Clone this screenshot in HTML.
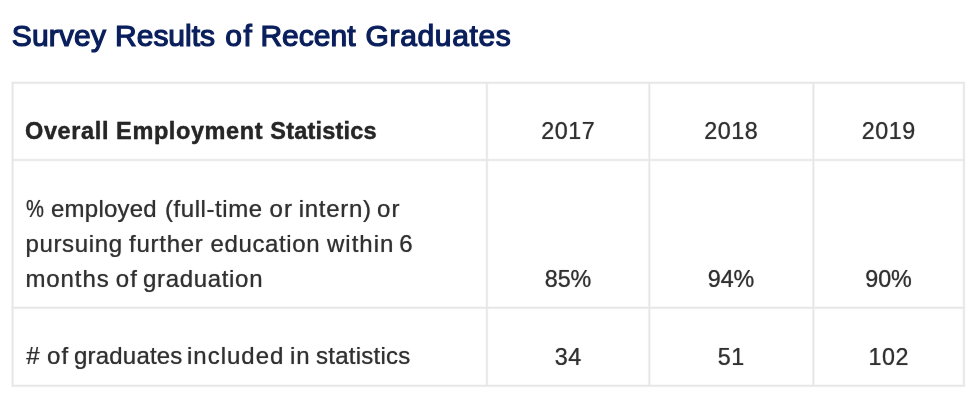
<!DOCTYPE html>
<html lang="en">
<head>
<meta charset="utf-8">
<title>Survey Results of Recent Graduates</title>
<style>
html,body{margin:0;padding:0;background:#fff;}
body{width:975px;height:407px;overflow:hidden;position:relative;font-family:"Liberation Sans",sans-serif;color:#222;}
h2{position:absolute;left:12px;top:15px;margin:0;font-size:30px;line-height:42px;font-weight:400;-webkit-text-stroke:1.2px #0a1f5c;text-shadow:0 0 1px rgba(10,31,92,0.55);color:#0a1f5c;white-space:nowrap;}
svg.grid{position:absolute;left:0;top:0;width:975px;height:407px;pointer-events:none;}
table{position:absolute;left:13px;top:83px;width:951px;border-collapse:collapse;border-spacing:0;table-layout:fixed;font-size:23.3px;line-height:35px;}
td,th{border:0;padding:0 0 12px;vertical-align:bottom;font-weight:400;text-align:center;white-space:nowrap;box-sizing:border-box;}
td:first-child,th:first-child{text-align:left;padding-left:12px;font-size:24px;}
tr.r1 th{height:77px;}
tr.r2 td{height:148px;}
tr.r3 td{height:78px;}
.t{display:block;letter-spacing:0;color:#303030;-webkit-text-stroke:0.15px #303030;text-shadow:0 0 1px rgba(40,40,40,0.5);}
.n{display:block;letter-spacing:0.55px;padding-left:0.55px;color:#303030;-webkit-text-stroke:0.15px #303030;text-shadow:0 0 1px rgba(40,40,40,0.5);position:relative;top:1px;}
.hd{position:relative;top:1px;font-size:23.5px;font-weight:700;color:#262626;-webkit-text-stroke:0.3px #262626;text-shadow:0 0 1px rgba(34,34,34,0.5);}
.r3t{position:relative;top:-1px;}
tr.r2 .n{letter-spacing:0;padding-left:0;}
</style>
</head>
<body>
<h2><span style="letter-spacing:0.18px;margin-left:-0.30px">Survey</span> <span style="letter-spacing:-0.03px;margin-left:0.60px">Results</span> <span style="letter-spacing:1.50px;margin-left:1.99px">of</span> <span style="letter-spacing:0.02px;margin-left:-1.23px">Recent</span> <span style="letter-spacing:0.65px;margin-left:1.57px">Graduates</span></h2>
<svg class="grid" viewBox="0 0 975 407" fill="none">
<g stroke="#f7f7f7" stroke-width="3">
<path d="M11.1 82.7H965.4M11.1 160.1H965.4M11.1 307.7H965.4M11.1 385.7H965.4"/>
<path d="M12.6 82.7V385.7M486.9 82.7V385.7M649.35 82.7V385.7M813.4 82.7V385.7M963.9 82.7V385.7"/>
</g>
<g stroke="#e6e6e6" stroke-width="1.5">
<path d="M11.85 82.7H964.65M11.85 160.1H964.65M11.85 307.7H964.65M11.85 385.7H964.65"/>
<path d="M12.6 82.7V385.7M486.9 82.7V385.7M649.35 82.7V385.7M813.4 82.7V385.7M963.9 82.7V385.7"/>
</g>
</svg>
<table>
<colgroup><col style="width:474px"><col style="width:162px"><col style="width:164px"><col style="width:151px"></colgroup>
<tr class="r1"><th><span class="t hd"><span style="letter-spacing:0.62px">Overall</span> <span style="letter-spacing:0.60px;margin-left:0.55px">Employment</span> <span style="letter-spacing:0.19px;margin-left:0.64px">Statistics</span></span></th><th><span class="n">2017</span></th><th><span class="n">2018</span></th><th><span class="n">2019</span></th></tr>
<tr class="r2"><td><span class="t l1"><span style="display:inline-block;transform:scaleX(.84);transform-origin:0 50%;margin-left:0.8px">%</span> <span style="letter-spacing:0.23px;margin-left:-2.82px">employed</span> <span style="letter-spacing:0.56px;margin-left:1.44px">(full-time</span> <span style="letter-spacing:1.20px;margin-left:0.16px">or</span> <span style="letter-spacing:0.73px;margin-left:-1.22px">intern)</span> <span style="letter-spacing:1.20px;margin-left:-1.44px">or</span></span><span class="t l2"><span style="letter-spacing:0.66px;margin-left:0.40px">pursuing</span> <span style="letter-spacing:0.73px;margin-left:-0.39px">further</span> <span style="letter-spacing:0.60px;margin-left:0.42px">education</span> <span style="letter-spacing:1.00px;margin-left:0.23px">within</span> <span style="margin-left:-1.83px">6</span></span><span class="t l3"><span style="letter-spacing:0.92px;margin-left:0.40px">months</span> <span style="letter-spacing:1.20px;margin-left:-0.59px">of</span> <span style="letter-spacing:0.67px;margin-left:-1.79px">graduation</span></span></td><td><span class="n">85%</span></td><td><span class="n">94%</span></td><td><span class="n">90%</span></td></tr>
<tr class="r3"><td><span class="t r3t"><span style="margin-left:1.30px">#</span> <span style="letter-spacing:1.20px;margin-left:0.57px">of</span> <span style="letter-spacing:0.20px;margin-left:-1.99px">graduates</span> <span style="letter-spacing:1.00px;margin-left:-2.22px">included</span> <span style="letter-spacing:1.00px;margin-left:-1.08px">in</span> <span style="letter-spacing:0.26px;margin-left:-1.36px">statistics</span></span></td><td><span class="n">34</span></td><td><span class="n">51</span></td><td><span class="n">102</span></td></tr>
</table>
</body>
</html>
